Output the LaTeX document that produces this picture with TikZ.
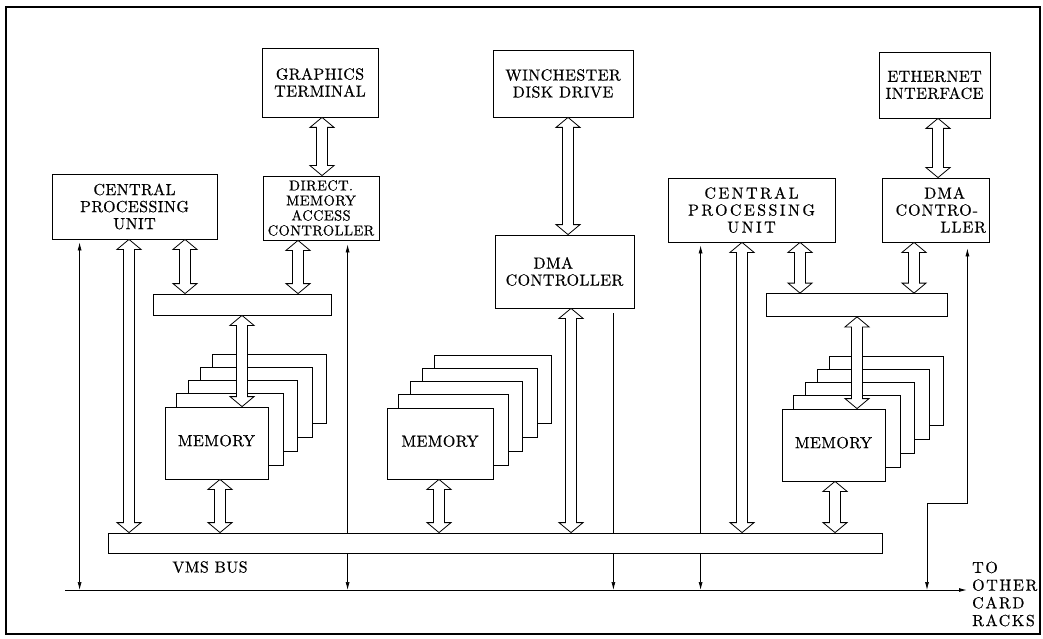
\documentclass[tikz,border=0pt]{standalone}
\usepackage{fontspec}
\setmainfont{lmroman10-regular}[Extension=.otf]
\newfontfamily\lbl{lmroman10-regular}[Extension=.otf,LetterSpace=2.5,FakeBold=0.5]
\newfontfamily\lblmid{lmroman10-regular}[Extension=.otf,LetterSpace=6,FakeBold=0.5]
\newfontfamily\lblrack{lmroman10-regular}[Extension=.otf,LetterSpace=10,FakeBold=0.5]
\newfontfamily\lblwide{lmroman10-regular}[Extension=.otf,LetterSpace=15,FakeBold=0.5]
\newcommand\lblsize{\fontsize{16}{17}\selectfont}
\usetikzlibrary{arrows.meta,calc,backgrounds}

\begin{document}
\begin{tikzpicture}[
        x=1pt, y=-1pt,
        >={Latex[length=8pt,width=4pt]},
        unit/.style={draw, line width=.8pt, fill=white, inner sep=0pt, align=center,
            font=\lbl\lblsize},
        midlbl/.style={font=\lblmid\lblsize},
        widelbl/.style={font=\lblwide\lblsize},
        card/.style={draw, line width=.8pt, fill=white},
        sig/.style={line width=.7pt},
        % hollow double-headed arrow, vertical, x of start and y of target
        dbl/.style={draw, line width=.8pt, fill=white, to path={
            let \p1=(\tikztostart), \p2=(\tikztotarget) in
            (\x1,\y1) -- (\x1+12pt,\y1-10pt) -- (\x1+5.5pt,\y1-10pt) -- (\x1+5.5pt,\y2+10pt)
            -- (\x1+12pt,\y2+10pt) -- (\x1,\y2) -- (\x1-12pt,\y2+10pt) -- (\x1-5.5pt,\y2+10pt)
            -- (\x1-5.5pt,\y1-10pt) -- (\x1-12pt,\y1-10pt) -- cycle}},
        % plain vertical drop down to the level of the target
        drop/.style={to path={let \p1=(\tikztostart), \p2=(\tikztotarget) in -- (\x1,\y2)}}
    ]

\useasboundingbox (0,0) rectangle (1043,639);
\draw[line width=1.1pt] (6,7) rectangle (1040,634);

% top row
\node[unit, minimum width=116, minimum height=69] (gfx) at (320,82.5) {GRAPHICS\\TERMINAL};
\node[unit, minimum width=140, minimum height=67] (wdd) at (563,83.5) {WINCHESTER\\DISK DRIVE};
\node[unit, minimum width=111, minimum height=66] (eth) at (934.5,85) {ETHERNET\\INTERFACE};

% processors and controllers
\node[unit, minimum width=165, minimum height=65] (cpuA) at (134.5,206.5) {CENTRAL\\PROCESSING\\UNIT};
\node[unit, minimum width=116, minimum height=64, font=\lbl\fontsize{14.5}{15}\selectfont] (dmaA) at (321,208)
    {DIRECT.\\MEMORY\\ACCESS\\CONTROLLER};
\node[unit, minimum width=139, minimum height=73] (dmaM) at (564.5,271.5) {\mbox{DMA\hspace{1.4em}}\\CONTROLLER};
\node[unit, widelbl, minimum width=167, minimum height=64] (cpuB) at (751.5,210) {CENTRAL\\PROCESSING\\UNIT};
\node[unit, midlbl, minimum width=107, minimum height=64, text width=101, align=flush right] (dmaB) at (935.5,210)
    {\mbox{DMA\hspace{21pt}}\\\mbox{CONTRO-\hspace{8pt}}\\LLER};

% local buses
\node[unit, minimum width=178, minimum height=21] (lbA) at (242,304.5) {};
\node[unit, minimum width=181, minimum height=23] (lbB) at (856.5,305) {};

% memory banks
\node[unit, minimum width=103, minimum height=72] (memA) at (216.5,443) {\raisebox{5pt}{MEMORY}};
\node[unit, minimum width=106, minimum height=71] (memM) at (440,443.5) {\raisebox{5pt}{MEMORY}};
\node[unit, minimum width=103, minimum height=72] (memB) at (833.5,445) {\raisebox{5pt}{MEMORY}};

% rack line
\coordinate (rk0) at (65,590);
\coordinate (rk1) at (967,590);
\coordinate (jog) at (927,503);

\begin{scope}[on background layer]
    \foreach \m in {memA,memM,memB}
        \foreach \k in {4,3,2,1}
            \draw[card] ([shift={(12*\k,-13*\k)}]\m.north west) rectangle ([shift={(14.5*\k,-14*\k)}]\m.south east);
    \draw[sig,<->] ([xshift=28,yshift=-3]cpuA.south west) to[drop] (rk0);
    \draw[sig,<->] ([xshift=85,yshift=-4]dmaA.south west) to[drop] (rk0);
    \draw[sig,->] ([xshift=-21,yshift=-5]dmaM.south east) to[drop] (rk0);
    \draw[sig,<->] ([xshift=33,yshift=-3]cpuB.south west) to[drop] (rk0);
    \draw[sig,<->] ([xshift=-22,yshift=-6]dmaB.south east) |- (jog) to[drop] (rk0);
\end{scope}

% system bus
\node[unit, minimum width=774, minimum height=20] (vms) at (495,543) {};
\node[font=\lbl\lblsize] (vmslbl) at (210,567) {VMS BUS};
\draw[line width=1pt,->] (rk0) -- (rk1);
\node[font=\lblrack\fontsize{16}{17.7}\selectfont, anchor=west, align=left, inner sep=0pt] (rk) at (972,594)
    {TO\\OTHER\\CARD\\RACKS};

% data paths
\draw[dbl] ([xshift=-5.5]cpuA.south) to (vms.north);
\draw[dbl] ([xshift=50.5]cpuA.south) to (lbA.north);
\draw[dbl] ([xshift=-23]dmaA.south) to (lbA.north);
\draw[dbl] ([xshift=2]gfx.south) to (dmaA.north);
\draw[dbl] (lbA.south) to (memA.north);
\draw[dbl] ([xshift=3.5]memA.south) to (vms.north);

\draw[dbl] ([xshift=-1]memM.south) to (vms.north);
\draw[dbl] ([xshift=5]wdd.south) to (dmaM.north);
\draw[dbl] ([xshift=6.5]dmaM.south) to (vms.north);

\draw[dbl] ([xshift=-9.5]cpuB.south) to (vms.north);
\draw[dbl] ([xshift=48.5]cpuB.south) to (lbB.north);
\draw[dbl] ([xshift=-21.5]dmaB.south) to (lbB.north);
\draw[dbl] ([xshift=3.5]eth.south) to (dmaB.north);
\draw[dbl] ([xshift=.5]lbB.south) to (memB.north);
\draw[dbl] ([xshift=1.5]memB.south) to (vms.north);

\end{tikzpicture}
\end{document}
